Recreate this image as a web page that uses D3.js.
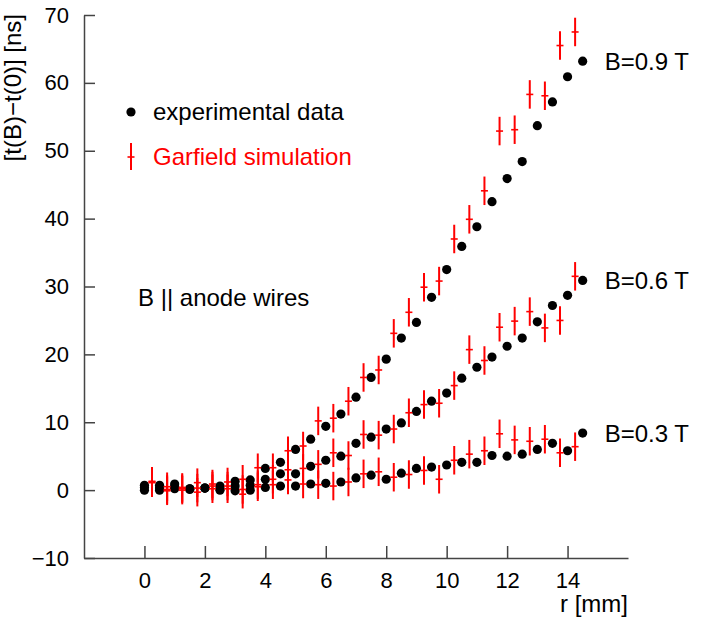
<!DOCTYPE html>
<html>
<head>
<meta charset="utf-8">
<script src="https://cdn.jsdelivr.net/npm/d3@7"></script>
<style>
  body { margin: 0; background: #fff; }
  #chart { width: 718px; height: 624px; }
  text { font-family: "Liberation Sans", Arial, Helvetica, sans-serif; }
</style>
</head>
<body>
<div id="chart"></div>
<script>
// r positions [mm]
const rExp = [0, 0.5, 1, 1.5, 2, 2.5, 3, 3.5, 4, 4.5, 5, 5.5, 6, 6.5, 7, 7.5, 8, 8.5, 9, 9.5,
              10, 10.5, 11, 11.5, 12, 12.5, 13, 13.5, 14, 14.5];
const rSim = [0.25, 0.75, 1.25, 1.75, 2.25, 2.75, 3.25, 3.75, 4.25, 4.75, 5.25, 5.75, 6.25, 6.75,
              7.25, 7.75, 8.25, 8.75, 9.25, 9.75, 10.25, 10.75, 11.25, 11.75, 12.25, 12.75,
              13.25, 13.75, 14.25];

// experimental data, t(B)-t(0) [ns]
const exp09 = [0.7, 0.7, 0.9, 0.2, 0.3, 0.6, 1.3, 1.5, 3.2, 4.1, 6.0, 7.5, 9.4, 11.2, 13.7, 16.6,
               19.3, 22.4, 24.7, 28.4, 32.5, 35.9, 38.8, 42.5, 45.9, 48.4, 53.7, 57.2, 60.9, 63.2];
const exp06 = [0.4, 0.3, 0.5, 0.2, 0.3, 0.2, 0.6, 0.7, 1.6, 2.4, 2.4, 3.5, 4.4, 5.0, 6.9, 7.8,
               9.0, 9.9, 11.6, 13.1, 14.3, 16.5, 18.1, 19.6, 21.2, 22.4, 24.8, 27.2, 28.7, 30.9];
const exp03 = [0.0, 0.0, 0.2, 0.1, 0.3, 0.0, -0.1, 0.0, 0.4, 0.6, 0.6, 0.9, 1.0, 1.2, 1.8, 2.2,
               1.6, 2.5, 3.2, 3.4, 3.7, 4.1, 4.1, 5.1, 5.0, 5.3, 6.0, 6.9, 5.8, 8.4];

// Garfield simulation
const sim09 = [1.3, 0.5, 0.4, 1.1, 0.9, 1.2, 1.6, 3.3, 3.3, 5.8, 6.5, 10.2, 10.6, 13.1, 16.6, 17.7,
               23.1, 26.2, 29.9, 30.8, 37.0, 39.9, 44.1, 52.9, 53.1, 58.3, 58.1, 65.5, 67.5];
const sim06 = [1.2, 0.1, 0.2, 0.3, 0.6, 0.6, 0.1, 0.8, 1.6, 3.0, 3.2, 3.8, 5.5, 5.1, 8.2, 8.1,
               9.0, 11.4, 12.6, 12.8, 15.4, 20.7, 19.1, 24.0, 24.9, 26.3, 23.9, 25.0, 31.5];
const sim03 = [1.1, -0.1, 0.0, -0.3, 0.2, 0.2, -0.6, 0.5, 0.8, 1.5, 0.9, 0.8, 0.6, 1.2, 2.4, 2.7,
               1.9, 2.3, 2.9, 1.6, 4.4, 5.3, 5.8, 8.3, 7.4, 7.2, 7.5, 5.5, 6.4];
const simErr = 2.1;

const seriesLabels = ['B=0.9 T', 'B=0.6 T', 'B=0.3 T'];
const xTicks = [0, 2, 4, 6, 8, 10, 12, 14];
const yTicks = [-10, 0, 10, 20, 30, 40, 50, 60, 70];

class Chart{
  constructor(opts){
    this.element = opts.element;
    this.exp = opts.exp;
    this.sim = opts.sim;
  }

  draw(){
    this.width = 718;
    this.height = 624;
    this.margin = { top: 15, bottom: 66, left: 84, right: 90 };

    this.element.innerHTML = '';
    const svg = d3.select(this.element).append('svg')
                  .attr('width', this.width)
                  .attr('height', this.height);

    this.plot = svg.append('g')
                   .attr('transform', `translate(${this.margin.left},${this.margin.top})`);
    this.svg = svg;

    this.createScales();
    this.addAxes();
    this.addPoints();
    this.addLabels();
  }

  createScales(){
    const m = this.margin;
    this.w = this.width - m.left - m.right;
    this.h = this.height - m.top - m.bottom;

    this.xScale = d3.scaleLinear().domain([-2, 16]).range([0, this.w]);
    this.yScale = d3.scaleLinear().domain([-10, 70]).range([this.h, 0]);
  }

  addAxes(){
    const xAxis = d3.axisBottom(this.xScale)
                    .tickValues(xTicks)
                    .tickSizeInner(-12)
                    .tickSizeOuter(0)
                    .tickPadding(14);

    const yAxis = d3.axisLeft(this.yScale)
                    .tickValues(yTicks)
                    .tickSizeInner(-11)
                    .tickSizeOuter(0)
                    .tickPadding(15);

    const gx = this.plot.append('g')
             .attr('class', 'x axis')
             .attr('transform', `translate(0,${this.h})`)
             .call(xAxis);

    const gy = this.plot.append('g')
             .attr('class', 'y axis')
             .call(yAxis);

    [gx, gy].forEach(g => {
      g.select('.domain').attr('stroke', '#444').attr('stroke-width', 1.5);
      g.selectAll('.tick line').attr('stroke', '#444').attr('stroke-width', 1.5);
      g.selectAll('.tick text')
       .style('font-size', '22px')
       .style('font-family', '"Liberation Sans", Arial, sans-serif')
       .attr('fill', '#000');
    });

    this.svg.append('text')
            .attr('transform', 'rotate(-90)')
            .attr('x', -14)
            .attr('y', 21)
            .style('text-anchor', 'end')
            .style('font-size', '24px')
            .text('[t(B)\u2212t(0)] [ns]');

    this.svg.append('text')
            .attr('x', this.margin.left + this.w)
            .attr('y', 612)
            .style('text-anchor', 'end')
            .style('font-size', '24px')
            .text('r [mm]');
  }

  addPoints(){
    const x = this.xScale, y = this.yScale;

    const dots = this.plot.append('g').attr('class', 'exp');
    this.exp.forEach(vals => {
      dots.selectAll(null)
          .data(vals.map((v, i) => ({ r: rExp[i], v: v })))
          .join('circle')
          .attr('cx', d => x(d.r))
          .attr('cy', d => y(d.v))
          .attr('r', 4.6)
          .attr('fill', '#000');
    });

    const bars = this.plot.append('g').attr('class', 'sim');
    this.sim.forEach(vals => {
      const g = bars.selectAll(null)
          .data(vals.map((v, i) => ({ r: rSim[i], v: v })))
          .join('g');
      g.append('line')
       .attr('x1', d => x(d.r)).attr('x2', d => x(d.r))
       .attr('y1', d => y(d.v - simErr)).attr('y2', d => y(d.v + simErr))
       .attr('stroke', '#f00')
       .attr('stroke-width', 2);
      g.append('line')
       .attr('x1', d => x(d.r) - 3.5).attr('x2', d => x(d.r) + 3.5)
       .attr('y1', d => y(d.v)).attr('y2', d => y(d.v))
       .attr('stroke', '#f00')
       .attr('stroke-width', 1.6);
    });
  }

  addLabels(){
    const x = this.xScale, y = this.yScale;

    // series labels next to last experimental point
    this.exp.forEach((vals, i) => {
      this.plot.append('text')
               .attr('x', x(rExp[rExp.length - 1]) + 22)
               .attr('y', y(vals[vals.length - 1]))
               .attr('dy', '0.35em')
               .style('font-size', '24px')
               .text(seriesLabels[i]);
    });

    // legend
    const lg = this.svg.append('g').attr('class', 'legend');
    lg.append('circle').attr('cx', 131).attr('cy', 112).attr('r', 4.6).attr('fill', '#000');
    lg.append('text').attr('x', 153).attr('y', 112).attr('dy', '0.35em')
      .style('font-size', '24px').text('experimental data');
    lg.append('line').attr('x1', 131).attr('x2', 131).attr('y1', 143).attr('y2', 170)
      .attr('stroke', '#f00').attr('stroke-width', 2);
    lg.append('line').attr('x1', 127.5).attr('x2', 134.5).attr('y1', 157).attr('y2', 157)
      .attr('stroke', '#f00').attr('stroke-width', 1.6);
    lg.append('text').attr('x', 153).attr('y', 157).attr('dy', '0.35em')
      .style('font-size', '24px').style('fill', '#f00').text('Garfield simulation');

    this.svg.append('text')
            .attr('x', 138).attr('y', 298).attr('dy', '0.35em')
            .style('font-size', '24px')
            .text('B || anode wires');
  }
}

const chart = new Chart({
  element: document.getElementById('chart'),
  exp: [exp09, exp06, exp03],
  sim: [sim09, sim06, sim03]
});
chart.draw();
</script>
</body>
</html>
